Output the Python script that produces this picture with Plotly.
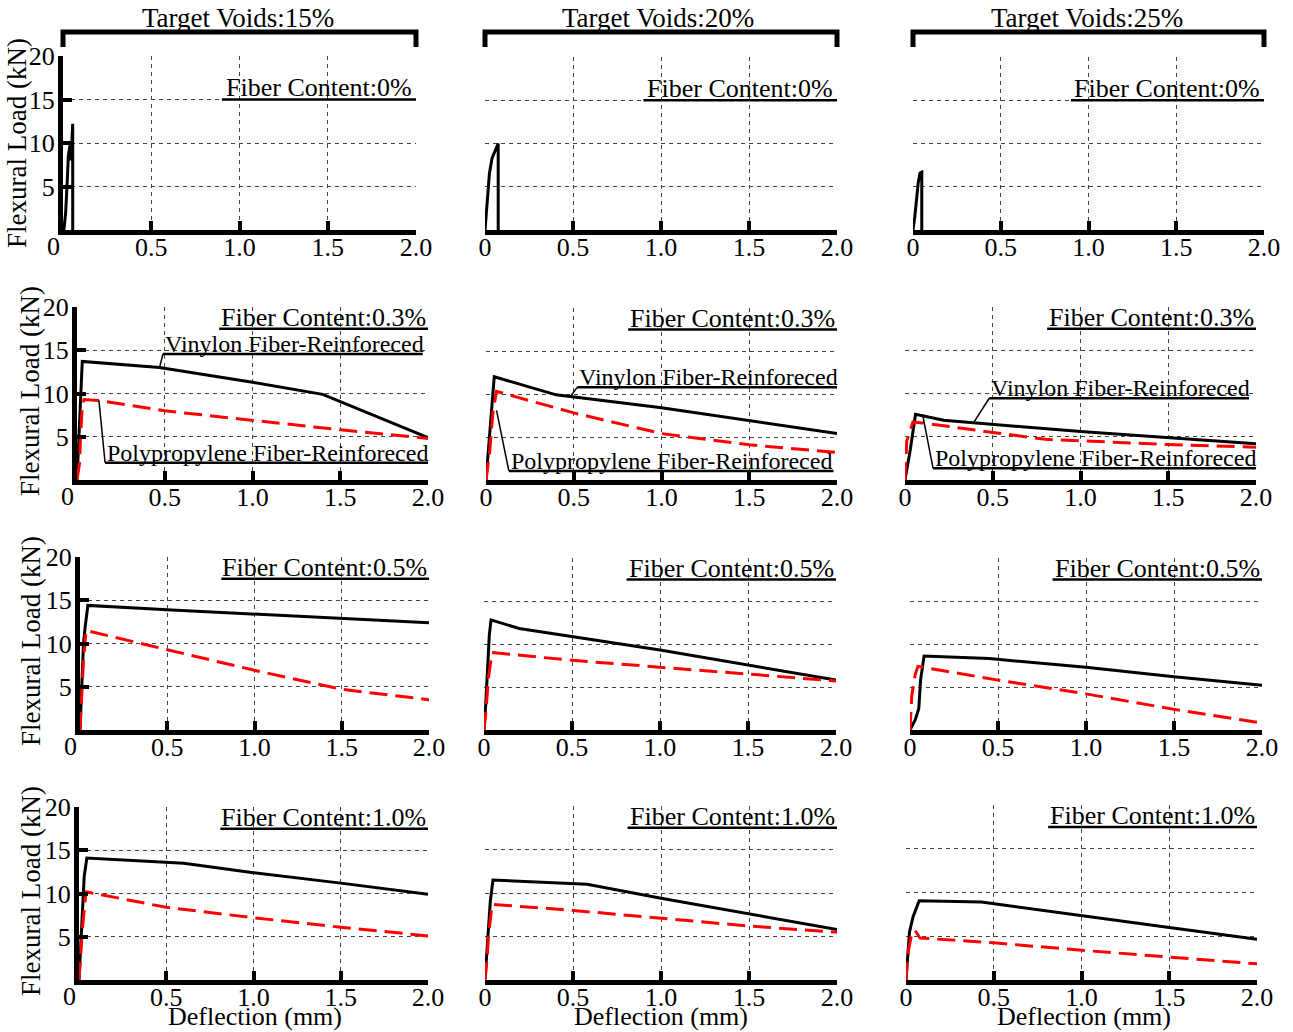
import plotly.graph_objects as go

# ---------------- data ----------------
x_ticks = [0, 0.5, 1.0, 1.5, 2.0]
x_tick_labels = ["0", "0.5", "1.0", "1.5", "2.0"]
y_ticks = [5, 10, 15, 20]
y_tick_labels = ["5", "10", "15", "20"]
void_titles = ["Target Voids:15%", "Target Voids:20%", "Target Voids:25%"]
fiber_titles = ["Fiber Content:0%", "Fiber Content:0.3%", "Fiber Content:0.5%", "Fiber Content:1.0%"]
y_title = "Flexural Load (kN)"
x_title = "Deflection (mm)"
vinylon_label = "Vinylon Fiber-Reinforeced"
pp_label = "Polypropylene Fiber-Reinforeced"

# plain concrete (fiber 0%)
plain15_x = [0.005, 0.015, 0.025, 0.03, 0.04, 0.045, 0.05, 0.055, 0.055]
plain15_y = [0, 2, 6, 8.5, 9.8, 8, 10, 12.2, 0]
plain20_x = [0, 0.01, 0.025, 0.04, 0.075, 0.075]
plain20_y = [0, 2.5, 6.5, 8.3, 10, 0]
plain25_x = [0, 0.01, 0.03, 0.04, 0.05, 0.05]
plain25_y = [0, 1.5, 5.5, 6.6, 6.7, 0]

# fiber 0.3%
vin15_03_x = [0, 0.01, 0.02, 0.03, 0.47, 1.0, 1.4, 2.0]
vin15_03_y = [0, 5, 10, 13.7, 13.0, 11.3, 9.9, 4.9]
pp15_03_x = [0, 0.015, 0.02, 0.03, 0.04, 0.12, 0.5, 1.0, 1.5, 2.0]
pp15_03_y = [0, 2, 5, 8.5, 9.3, 9.2, 8.0, 6.9, 5.8, 4.8]
vin20_03_x = [0, 0.02, 0.047, 0.4, 1.0, 2.0]
vin20_03_y = [0, 5, 12.0, 9.9, 8.4, 5.4]
pp20_03_x = [0, 0.02, 0.04, 0.06, 0.5, 1.0, 1.5, 2.0]
pp20_03_y = [0, 3, 8, 10.3, 7.8, 5.4, 4.1, 3.2]
vin25_03_x = [0, 0.03, 0.06, 0.22, 1.0, 2.0]
vin25_03_y = [0, 3.5, 7.6, 6.9, 5.6, 4.2]
pp25_03_x = [0, 0.01, 0.045, 0.1, 0.5, 0.8, 1.5, 2.0]
pp25_03_y = [0, 4.5, 6.7, 6.6, 5.5, 4.7, 4.1, 3.8]

# fiber 0.5%
vin15_05_x = [0, 0.01, 0.02, 0.03, 0.045, 0.5, 1.0, 1.5, 2.0]
vin15_05_y = [0, 5, 10, 12, 14.4, 13.9, 13.4, 12.9, 12.4]
pp15_05_x = [0, 0.01, 0.02, 0.035, 0.5, 1.0, 1.5, 2.0]
pp15_05_y = [0, 4, 8, 11.5, 9.3, 6.9, 4.7, 3.5]
vin20_05_x = [0, 0.01, 0.03, 0.04, 0.2, 1.0, 2.0]
vin20_05_y = [0, 3, 11, 12.8, 11.8, 9.3, 5.8]
pp20_05_x = [0, 0.01, 0.025, 0.045, 0.5, 1.0, 1.5, 2.0]
pp20_05_y = [0, 2, 6, 9.0, 8.1, 7.3, 6.5, 5.7]
vin25_05_x = [0, 0.03, 0.05, 0.06, 0.08, 0.45, 1.0, 1.5, 2.0]
vin25_05_y = [0, 1.2, 2.5, 5.8, 8.6, 8.3, 7.3, 6.2, 5.2]
pp25_05_x = [0, 0.01, 0.03, 0.045, 0.5, 1.0, 1.5, 2.0]
pp25_05_y = [0, 4, 6.5, 7.4, 5.8, 4.2, 2.4, 0.8]

# fiber 1.0%
vin15_10_x = [0, 0.01, 0.02, 0.03, 0.045, 0.6, 1.0, 1.5, 2.0]
vin15_10_y = [0, 4, 9, 12, 14.1, 13.5, 12.4, 11.2, 9.9]
pp15_10_x = [0, 0.01, 0.02, 0.04, 0.5, 1.0, 1.5, 2.0]
pp15_10_y = [0, 3, 6, 10.2, 8.4, 7.2, 6.1, 5.1]
vin20_10_x = [0, 0.015, 0.03, 0.045, 0.58, 1.0, 1.5, 2.0]
vin20_10_y = [0, 4, 9, 11.5, 11.0, 9.4, 7.6, 5.8]
pp20_10_x = [0, 0.01, 0.02, 0.04, 0.5, 1.0, 1.5, 2.0]
pp20_10_y = [0, 2, 5, 8.7, 8.0, 7.1, 6.2, 5.5]
vin25_10_x = [0, 0.01, 0.02, 0.04, 0.075, 0.43, 1.0, 1.5, 2.0]
vin25_10_y = [0, 3, 5.5, 7.2, 9.05, 8.9, 7.4, 6.0, 4.65]
pp25_10_x = [0, 0.01, 0.03, 0.05, 0.08, 0.5, 1.0, 1.5, 2.0]
pp25_10_y = [0, 3, 5, 5.7, 4.8, 4.25, 3.4, 2.6, 1.85]

# ---------------- layout helpers ----------------
W, H = 1293, 1032
FONT = "Liberation Serif"
FS = 26
FS_TITLE = 27

# panel boxes in pixels: (left, right, top(y=20), bottom(y=0))
boxes = [
    [(63, 416, 56, 230), (485, 837, 57, 230), (913, 1264, 57, 230)],
    [(77, 428, 307, 480), (486, 837, 308, 480), (905, 1256, 307, 480)],
    [(80, 429, 557, 730), (484, 836, 558, 730), (910, 1262, 558, 730)],
    [(79, 428, 807, 980), (485, 837, 806, 980), (906, 1257, 805, 980)],
]

black_series = [
    [(plain15_x, plain15_y), (plain20_x, plain20_y), (plain25_x, plain25_y)],
    [(vin15_03_x, vin15_03_y), (vin20_03_x, vin20_03_y), (vin25_03_x, vin25_03_y)],
    [(vin15_05_x, vin15_05_y), (vin20_05_x, vin20_05_y), (vin25_05_x, vin25_05_y)],
    [(vin15_10_x, vin15_10_y), (vin20_10_x, vin20_10_y), (vin25_10_x, vin25_10_y)],
]
red_series = [
    [None, None, None],
    [(pp15_03_x, pp15_03_y), (pp20_03_x, pp20_03_y), (pp25_03_x, pp25_03_y)],
    [(pp15_05_x, pp15_05_y), (pp20_05_x, pp20_05_y), (pp25_05_x, pp25_05_y)],
    [(pp15_10_x, pp15_10_y), (pp20_10_x, pp20_10_y), (pp25_10_x, pp25_10_y)],
]

# label placement (data units of each panel)
fiber_label_pos = [(15.0, 0.9, 1.99), (17.5, 0.81, 2.0), (17.5, 0.81, 2.0), (17.5, 0.81, 2.0)]
# (underline y, underline x0, underline x1, leader x, leader y)
vin_leaders = [(14.57, 0.49, 1.97, 0.47, 13.0), (10.78, 0.52, 2.0, 0.48, 9.7), (9.45, 0.48, 1.96, 0.39, 6.6)]
pp_leaders = [(2.0, 0.16, 2.0, 0.125, 9.2), (1.05, 0.13, 1.98, 0.06, 8.1), (1.35, 0.16, 2.0, 0.1, 7.6)]


def px(x):
    return x / W


def py(y):
    return 1 - y / H


fig = go.Figure()
layout = dict(
    width=W, height=H, margin=dict(l=0, r=0, t=0, b=0, autoexpand=False),
    paper_bgcolor="white", plot_bgcolor="white", showlegend=False,
    font=dict(family=FONT, size=FS, color="black"),
)
shapes = []
annotations = []

for r in range(4):
    for c in range(3):
        n = r * 3 + c + 1
        xa = "xaxis" if n == 1 else f"xaxis{n}"
        ya = "yaxis" if n == 1 else f"yaxis{n}"
        xr = "x" if n == 1 else f"x{n}"
        yr = "y" if n == 1 else f"y{n}"
        L, R, T, B = boxes[r][c]
        labels = list(x_tick_labels)
        if c == 0:
            labels[0] = ""
        layout[xa] = dict(
            domain=[px(L), px(R)], anchor=yr, range=[0, 2.0],
            tickvals=x_ticks, ticktext=labels, tickfont=dict(size=FS, family=FONT),
            showline=True, linewidth=5, linecolor="black",
            ticks="inside", ticklen=9, tickwidth=4, tickcolor="black",
            ticklabelstandoff=-10,
            showgrid=True, gridcolor="#444", gridwidth=1, griddash="4px,4px",
            zeroline=False, fixedrange=True,
        )
        layout[ya] = dict(
            domain=[py(B), py(T)], anchor=xr, range=[0, 20],
            tickvals=y_ticks, ticktext=y_tick_labels, tickfont=dict(size=FS, family=FONT),
            showline=(c == 0), linewidth=5, linecolor="black",
            ticks="inside" if c == 0 else "", ticklen=9, tickwidth=4, tickcolor="black",
            showticklabels=(c == 0), ticklabelstandoff=-2,
            showgrid=True, gridcolor="#444", gridwidth=1, griddash="4px,4px",
            zeroline=False, fixedrange=True,
        )

        bx, by = black_series[r][c]
        fig.add_trace(go.Scatter(x=bx, y=by, mode="lines", xaxis=xr, yaxis=yr,
                                 line=dict(color="black", width=3), hoverinfo="skip"))
        rs = red_series[r][c]
        if rs is not None:
            fig.add_trace(go.Scatter(x=rs[0], y=rs[1], mode="lines", xaxis=xr, yaxis=yr,
                                     line=dict(color="#ff0000", width=3, dash="18px,8px"),
                                     hoverinfo="skip"))

        # Fiber content label + underline
        uy, ux0, ux1 = fiber_label_pos[r]
        shapes.append(dict(type="line", xref=xr, yref=yr, x0=ux0, x1=2.0, y0=uy, y1=uy,
                           line=dict(color="black", width=2.5)))
        annotations.append(dict(text=fiber_titles[r], xref=xr, yref=yr, x=ux1, y=uy,
                                xanchor="right", yanchor="bottom", yshift=-5, showarrow=False,
                                font=dict(size=FS, family=FONT, color="black")))

        if r == 1:
            for (ly, lx0, lx1, tx, ty), txt in ((vin_leaders[c], vinylon_label), (pp_leaders[c], pp_label)):
                shapes.append(dict(type="line", xref=xr, yref=yr, x0=lx0, x1=lx1, y0=ly, y1=ly,
                                   line=dict(color="black", width=2.5)))
                shapes.append(dict(type="line", xref=xr, yref=yr, x0=lx0, x1=tx, y0=ly, y1=ty,
                                   line=dict(color="black", width=1.5)))
                annotations.append(dict(text=txt, xref=xr, yref=yr, x=lx0, y=ly,
                                        xanchor="left", yanchor="bottom", yshift=-5, showarrow=False,
                                        font=dict(size=24, family=FONT, color="black")))

        if c == 0:
            annotations.append(dict(text=x_tick_labels[0], xref=xr, yref=yr, x=0, y=0,
                                    xanchor="center", yanchor="top", xshift=-10, yshift=0,
                                    showarrow=False, font=dict(size=FS, family=FONT, color="black")))

# top brackets on first row
for c in range(3):
    L, R, T, B = boxes[0][c]
    y0, y1 = py(32), py(47)
    shapes.append(dict(type="path", xref="paper", yref="paper",
                       path=f"M {px(L)},{y1} L {px(L)},{y0} L {px(R)},{y0} L {px(R)},{y1}",
                       line=dict(color="black", width=5)))

# column titles
for c, cx in enumerate([238, 658, 1087]):
    annotations.append(dict(text=void_titles[c], xref="paper", yref="paper", x=px(cx), y=py(18),
                            xanchor="center", yanchor="middle", showarrow=False,
                            font=dict(size=FS_TITLE, family=FONT, color="black")))
# x titles
for c, cx in enumerate([255, 661, 1084]):
    annotations.append(dict(text=x_title, xref="paper", yref="paper", x=px(cx), y=py(1016),
                            xanchor="center", yanchor="middle", showarrow=False,
                            font=dict(size=FS, family=FONT, color="black")))
# y titles
for (yx, yy) in [(17, 143), (30, 391), (31, 641), (31, 891)]:
    annotations.append(dict(text=y_title, xref="paper", yref="paper", x=px(yx), y=py(yy),
                            xanchor="center", yanchor="middle", textangle=-90, showarrow=False,
                            font=dict(size=FS_TITLE, family=FONT, color="black")))

layout["shapes"] = shapes
layout["annotations"] = annotations
fig.update_layout(**layout)
fig.write_html(
    "out.html",
    config={"displayModeBar": False},
    post_script="document.documentElement.style.margin='0';document.body.style.margin='0';"
                "document.body.style.overflow='hidden';",
)
